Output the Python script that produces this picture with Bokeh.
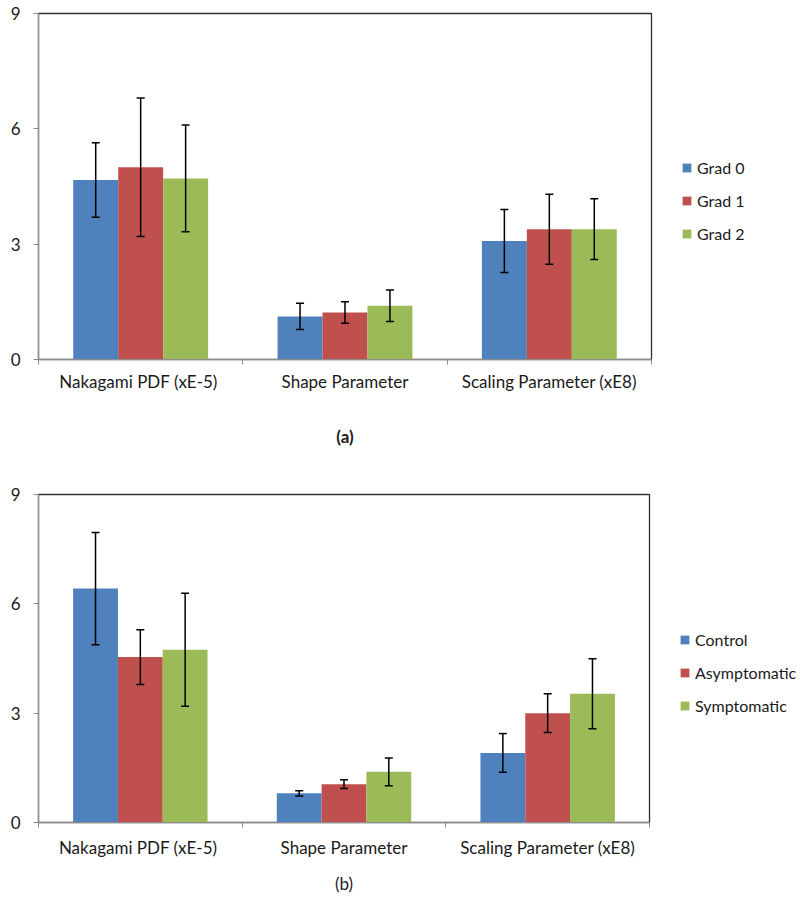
from bokeh.plotting import figure
from bokeh.models import (ColumnDataSource, Range1d, FixedTicker, Whisker, TeeHead,
                          Legend, LegendItem)
from bokeh.layouts import column
from bokeh.embed import file_html
from bokeh.resources import INLINE

# ---------------- data ----------------
categories = ["Nakagami  PDF (xE-5)", "Shape Parameter", "Scaling Parameter (xE8)"]
y_ticks = [0, 3, 6, 9]

a_series = ["Grad 0", "Grad 1", "Grad 2"]
a_grad0 = [4.67, 1.12, 3.08]
a_grad0_err = [0.97, 0.34, 0.82]
a_grad1 = [5.00, 1.22, 3.39]
a_grad1_err = [1.80, 0.28, 0.91]
a_grad2 = [4.71, 1.40, 3.39]
a_grad2_err = [1.39, 0.41, 0.79]

b_series = ["Control", "Asymptomatic", "Symptomatic"]
b_control = [6.42, 0.80, 1.91]
b_control_err = [1.54, 0.07, 0.53]
b_asym = [4.54, 1.05, 3.00]
b_asym_err = [0.75, 0.12, 0.53]
b_sym = [4.74, 1.39, 3.53]
b_sym_err = [1.55, 0.38, 0.96]

colors = ["#4F81BD", "#C0504D", "#9BBB59"]
FONT = "Lato"


def make_chart(series, vals, errs, caption, caption_bold, cap_standoff, lab_standoff,
               frame_w, frame_h, left, top, right, bottom, leg_y):
    p = figure(frame_width=frame_w, frame_height=frame_h,
               x_range=Range1d(0, len(categories)), y_range=Range1d(0, 9),
               output_backend="svg", toolbar_location=None,
               min_border_left=left, min_border_top=top,
               min_border_right=right, min_border_bottom=bottom)
    p.xgrid.visible = False
    p.ygrid.visible = False
    p.outline_line_color = "#303030"
    p.outline_line_width = 1.3
    p.background_fill_color = "white"
    p.border_fill_color = "white"

    bar_w = 0.22
    offsets = [-bar_w, 0.0, bar_w]
    items = []
    for k, name in enumerate(series):
        xs = [i + 0.5 + offsets[k] for i in range(len(categories))]
        src = ColumnDataSource(dict(
            x=xs, top=vals[k],
            upper=[v + e for v, e in zip(vals[k], errs[k])],
            lower=[v - e for v, e in zip(vals[k], errs[k])]))
        r = p.vbar(x="x", top="top", bottom=0, width=bar_w, source=src,
                   fill_color=colors[k], line_color=None)
        items.append(LegendItem(label=name, renderers=[r]))
        w = Whisker(base="x", upper="upper", lower="lower", source=src,
                    level="overlay",
                    line_color="black", line_width=1.5,
                    upper_head=TeeHead(size=8, line_color="black", line_width=1.5),
                    lower_head=TeeHead(size=8, line_color="black", line_width=1.5))
        p.add_layout(w)

    # x axis: labels at category centers, tick marks at category boundaries
    xa = p.xaxis[0]
    xa.ticker = FixedTicker(ticks=[i + 0.5 for i in range(len(categories))],
                            minor_ticks=list(range(len(categories) + 1)))
    xa.major_label_overrides = {i + 0.5: c for i, c in enumerate(categories)}
    xa.major_tick_line_color = None
    xa.major_tick_out = 0
    xa.major_tick_in = 0
    xa.minor_tick_line_color = "#8c8c8c"
    xa.minor_tick_out = 5
    xa.minor_tick_in = 0
    xa.axis_line_color = "#8c8c8c"
    xa.axis_line_width = 1.2
    xa.major_label_standoff = lab_standoff
    xa.major_label_text_font = FONT
    xa.major_label_text_font_size = "17px"
    xa.major_label_text_color = "#1a1a1a"
    xa.axis_label = caption
    xa.axis_label_standoff = cap_standoff
    xa.axis_label_text_font = FONT
    xa.axis_label_text_font_size = "17px"
    xa.axis_label_text_font_style = "bold" if caption_bold else "normal"
    xa.axis_label_text_color = "#1a1a1a"

    ya = p.yaxis[0]
    ya.ticker = FixedTicker(ticks=y_ticks)
    ya.minor_tick_line_color = None
    ya.major_tick_out = 5
    ya.major_tick_in = 0
    ya.major_tick_line_color = "#8c8c8c"
    ya.axis_line_color = "#8c8c8c"
    ya.axis_line_width = 1.2
    ya.major_label_standoff = 13
    ya.major_label_text_font = FONT
    ya.major_label_text_font_size = "17px"
    ya.major_label_text_color = "#1a1a1a"

    leg = Legend(items=items, location=(30, leg_y), orientation="vertical",
                 border_line_color=None, background_fill_alpha=0,
                 padding=0, margin=0, spacing=13,
                 glyph_width=11, glyph_height=11, label_height=20,
                 label_standoff=5, label_text_font=FONT,
                 label_text_font_size="16px", label_text_color="#1a1a1a")
    p.add_layout(leg, "right")
    return p


p1 = make_chart(a_series, [a_grad0, a_grad1, a_grad2],
                [a_grad0_err, a_grad1_err, a_grad2_err],
                "(a)", True, 31, 6,
                613, 346, 38, 13, 149, 119, 116)
p2 = make_chart(b_series, [b_control, b_asym, b_sym],
                [b_control_err, b_asym_err, b_sym_err],
                "(b)", False, 12, 9,
                611, 328, 33, 16, 156, 75, 107)

layout = column(p1, p2, spacing=0)
open("out.html", "w").write(file_html(layout, INLINE))
